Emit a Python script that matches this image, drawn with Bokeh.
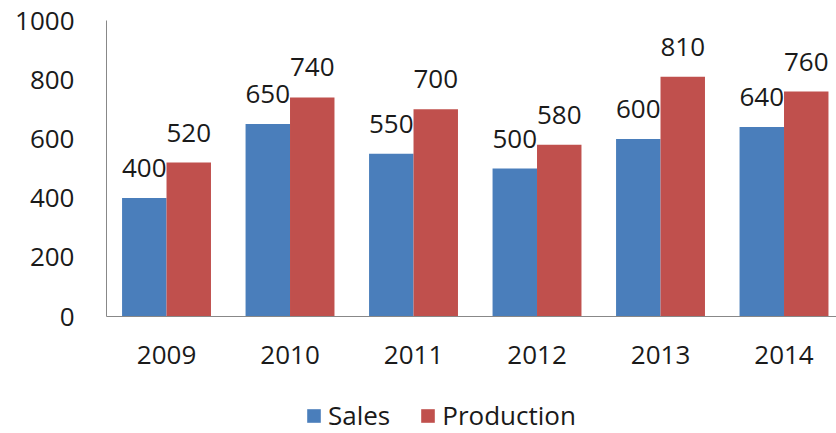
from bokeh.plotting import figure
from bokeh.layouts import column
from bokeh.models import ColumnDataSource, Range1d, FixedTicker, Legend, LegendItem
from bokeh.core.properties import value
from bokeh.embed import file_html
from bokeh.resources import INLINE

years = [2009, 2010, 2011, 2012, 2013, 2014]
year_labels = ["2009", "2010", "2011", "2012", "2013", "2014"]
sales = [400, 650, 550, 500, 600, 640]
production = [520, 740, 700, 580, 810, 760]
y_ticks = [0, 200, 400, 600, 800, 1000]
series_names = ["Sales", "Production"]

FONT = "Open Sans"
FS = "26px"
BLUE = "#4a7ebb"
RED = "#c0504d"
AXIS = "#888888"
TXT = "#1a1a1a"

dodge = 0.18
bar_w = 0.36

src_s = ColumnDataSource(dict(x=[y - dodge for y in years], top=sales,
                              lab=[str(v) for v in sales]))
src_p = ColumnDataSource(dict(x=[y + dodge for y in years], top=production,
                              lab=[str(v) for v in production]))

p = figure(width=836, height=385, output_backend="svg", toolbar_location=None,
           x_range=Range1d(2008.514, 2014.425), y_range=Range1d(0, 1000),
           min_border_left=106, min_border_right=0, min_border_top=20,
           min_border_bottom=69)
p.outline_line_color = None
p.xgrid.visible = False
p.ygrid.visible = False
p.background_fill_color = "white"
p.border_fill_color = "white"

p.vbar(x="x", top="top", width=bar_w, bottom=0, source=src_s,
       fill_color=BLUE, line_color=None)
p.vbar(x="x", top="top", width=bar_w, bottom=0, source=src_p,
       fill_color=RED, line_color=None)

for src in (src_s, src_p):
    p.text(x="x", y="top", text="lab", source=src, text_align="center",
           text_baseline="alphabetic", y_offset=-30,
           text_font=value(FONT), text_font_size=FS, text_color=TXT)

# axes
p.yaxis.ticker = FixedTicker(ticks=y_ticks)
p.xaxis.ticker = FixedTicker(ticks=years)
p.xaxis.major_label_overrides = {y: l for y, l in zip(years, year_labels)}
for ax in (p.xaxis[0], p.yaxis[0]):
    ax.axis_line_color = AXIS
    ax.axis_line_width = 1
    ax.major_tick_line_color = None
    ax.minor_tick_line_color = None
    ax.major_tick_out = 0
    ax.major_tick_in = 0
    ax.major_label_text_font = FONT
    ax.major_label_text_font_size = FS
    ax.major_label_text_color = TXT
p.yaxis.major_label_standoff = 32
p.xaxis.major_label_standoff = 29

# legend strip below the chart (its bars fall outside its own range, so only
# the legend swatches show)
p2 = figure(width=836, height=48, output_backend="svg", toolbar_location=None,
            x_range=Range1d(0, 1), y_range=Range1d(0, 1),
            x_axis_type=None, y_axis_type=None,
            min_border_left=0, min_border_right=0, min_border_top=0,
            min_border_bottom=0)
p2.outline_line_color = None
p2.xgrid.visible = False
p2.ygrid.visible = False
p2.background_fill_color = "white"
p2.border_fill_color = "white"
ls = p2.vbar(x="x", top="top", width=bar_w, source=src_s,
             fill_color=BLUE, line_color=None)
lp = p2.vbar(x="x", top="top", width=bar_w, source=src_p,
             fill_color=RED, line_color=None)

legend = Legend(items=[LegendItem(label=series_names[0], renderers=[ls]),
                       LegendItem(label=series_names[1], renderers=[lp])],
                orientation="horizontal", location=(199, 0),
                padding=0, margin=0, spacing=29, label_standoff=6,
                glyph_width=17, glyph_height=17,
                label_text_font=FONT, label_text_font_size=FS,
                label_text_color=TXT,
                border_line_color=None, background_fill_alpha=0)
p2.add_layout(legend, "center")

layout = column(p, p2, spacing=0)
open("out.html", "w").write(file_html(layout, INLINE))
